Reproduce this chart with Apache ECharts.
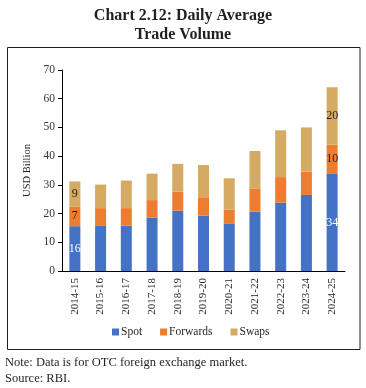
<!DOCTYPE html>
<html>
<head>
<meta charset="utf-8">
<script src="https://cdn.jsdelivr.net/npm/echarts@6/dist/echarts.min.js"></script>
<style>
html,body{margin:0;padding:0;background:#fff;}
#c{width:366px;height:388px;}
</style>
</head>
<body>
<div id="c"></div>
<script>
const categories = ['2014-15','2015-16','2016-17','2017-18','2018-19','2019-20','2020-21','2021-22','2022-23','2023-24','2024-25'];
const spot     = [15.6, 15.7, 15.8, 18.6, 21.0, 19.3, 16.4, 20.7, 23.8, 26.5, 33.8];
const forwards = [6.9, 6.2, 6.1, 6.1, 6.6, 6.4, 5.0, 7.9, 8.9, 8.1, 10.2];
const swaps    = [8.7, 8.2, 9.6, 9.2, 9.7, 11.2, 10.9, 13.2, 16.3, 15.4, 20.0];
const labelledIdx = [0, 10];
const yTicks = {min: 0, max: 70, interval: 10};

const FONT = 'Liberation Serif';
const TXT = '#231F20';

function withLabels(arr, color) {
  return arr.map((v, i) => labelledIdx.includes(i)
    ? {value: v, label: {show: true, color: color, fontFamily: FONT, fontSize: 12, formatter: p => Math.round(p.value)}}
    : v);
}

const chart = echarts.init(document.getElementById('c'), null, {renderer: 'canvas'});
chart.setOption({
  animation: false,
  backgroundColor: '#fff',
  title: {
    text: 'Chart 2.12: Daily Average\nTrade Volume',
    left: 'center', top: 1,
    textStyle: {fontFamily: FONT, fontWeight: 'bold', fontSize: 16, color: TXT, lineHeight: 19}
  },
  legend: {
    left: 107, top: 321,
    itemWidth: 7, itemHeight: 7, itemGap: 18,
    icon: 'rect',
    textStyle: {fontFamily: FONT, fontSize: 11.5, color: TXT, padding: [0,0,0,-3]},
    data: ['Spot', 'Forwards', 'Swaps']
  },
  grid: {left: 62, right: 21, top: 70, bottom: 117, containLabel: false},
  xAxis: {
    type: 'category', data: categories,
    axisLine: {show: true, lineStyle: {color: '#000', width: 1}},
    axisTick: {show: false},
    axisLabel: {rotate: 90, margin: 7, fontFamily: FONT, fontSize: 11, color: TXT}
  },
  yAxis: {
    type: 'value', min: yTicks.min, max: yTicks.max, interval: yTicks.interval,
    name: 'USD Billion', nameLocation: 'middle', nameGap: 25,
    nameTextStyle: {fontFamily: FONT, fontSize: 10.5, color: TXT},
    axisLine: {show: true, lineStyle: {color: '#000', width: 1}},
    axisTick: {show: true, length: 4, lineStyle: {color: '#000'}},
    splitLine: {show: false},
    axisLabel: {margin: 7, fontFamily: FONT, fontSize: 11.5, color: '#333'}
  },
  series: [
    {name: 'Spot', type: 'bar', stack: 't', barWidth: 11, itemStyle: {color: '#4472C4'},
     data: withLabels(spot, '#fff'), label: {show: false, position: 'inside'}},
    {name: 'Forwards', type: 'bar', stack: 't', barWidth: 11, itemStyle: {color: '#ED7D31'},
     data: withLabels(forwards, TXT), label: {show: false, position: 'inside'}},
    {name: 'Swaps', type: 'bar', stack: 't', barWidth: 11, itemStyle: {color: '#D5AA63'},
     data: withLabels(swaps, TXT), label: {show: false, position: 'inside'}}
  ],
  graphic: [
    {type: 'rect', shape: {x: 7.5, y: 47.5, width: 352.5, height: 302}, style: {fill: 'none', stroke: '#231F20', lineWidth: 1}, silent: true},
    {type: 'text', left: 5, top: 356, style: {text: 'Note: Data is for OTC foreign exchange market.', font: '12.5px "Liberation Serif"', fill: TXT}},
    {type: 'text', left: 5, top: 372, style: {text: 'Source: RBI.', font: '12.5px "Liberation Serif"', fill: TXT}}
  ]
});
</script>
</body>
</html>
